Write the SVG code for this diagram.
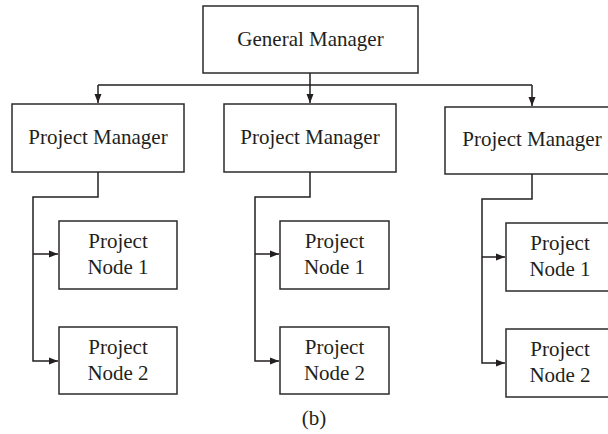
<svg xmlns="http://www.w3.org/2000/svg" width="608" height="434" viewBox="0 0 608 434">
<defs>
<style>
.box{fill:#fff;stroke:#2b2b2b;stroke-width:1.5}
.t{font-family:"Liberation Serif","DejaVu Serif",serif;font-size:21px;fill:#231f20;text-anchor:middle}
.c{fill:none;stroke:#231f20;stroke-width:1.5}
</style>
<marker id="ah" markerUnits="userSpaceOnUse" markerWidth="10" markerHeight="8" refX="9" refY="4" orient="auto">
<path d="M0,0.5 L9,4 L0,7.5 Z" fill="#231f20"/>
</marker>
</defs>
<rect width="608" height="434" fill="#fff"/>
<g id="connectors">
<path class="c" d="M310,73 V103" marker-end="url(#ah)"/>
<path class="c" d="M98,85 H532"/>
<path class="c" d="M98,85 V103" marker-end="url(#ah)"/>
<path class="c" d="M532,85 V106" marker-end="url(#ah)"/>
<path class="c" d="M98,172 V197 H33 V361 H58" marker-end="url(#ah)"/>
<path class="c" d="M33,254 H58" marker-end="url(#ah)"/>
<path class="c" d="M310,172 V197 H255 V361 H279" marker-end="url(#ah)"/>
<path class="c" d="M255,254 H279" marker-end="url(#ah)"/>
<path class="c" d="M532,174 V199 H482 V363 H505" marker-end="url(#ah)"/>
<path class="c" d="M482,257 H505" marker-end="url(#ah)"/>
</g>
<g id="general-manager">
<rect class="box" x="203" y="6" width="215" height="67"/>
<text class="t" x="310.5" y="46">General Manager</text>
</g>
<g id="pm1">
<rect class="box" x="12" y="104" width="172" height="68"/>
<text class="t" x="98" y="144">Project Manager</text>
</g>
<g id="pm2">
<rect class="box" x="224" y="104" width="172" height="68"/>
<text class="t" x="310" y="144">Project Manager</text>
</g>
<g id="pm3">
<rect class="box" x="445" y="107" width="174" height="67"/>
<text class="t" x="532" y="146">Project Manager</text>
</g>
<g id="n11">
<rect class="box" x="59" y="221" width="118" height="68"/>
<text class="t" x="118" y="248">Project</text>
<text class="t" x="118" y="274">Node 1</text>
</g>
<g id="n12">
<rect class="box" x="59" y="327" width="118" height="67"/>
<text class="t" x="118" y="354">Project</text>
<text class="t" x="118" y="380">Node 2</text>
</g>
<g id="n21">
<rect class="box" x="280" y="221" width="109" height="68"/>
<text class="t" x="334.5" y="248">Project</text>
<text class="t" x="334.5" y="274">Node 1</text>
</g>
<g id="n22">
<rect class="box" x="280" y="327" width="109" height="67"/>
<text class="t" x="334.5" y="354">Project</text>
<text class="t" x="334.5" y="380">Node 2</text>
</g>
<g id="n31">
<rect class="box" x="506" y="223" width="108" height="68"/>
<text class="t" x="560" y="250">Project</text>
<text class="t" x="560" y="276">Node 1</text>
</g>
<g id="n32">
<rect class="box" x="506" y="329" width="108" height="68"/>
<text class="t" x="560" y="356">Project</text>
<text class="t" x="560" y="382">Node 2</text>
</g>
<text class="t" x="314" y="425">(b)</text>
</svg>
